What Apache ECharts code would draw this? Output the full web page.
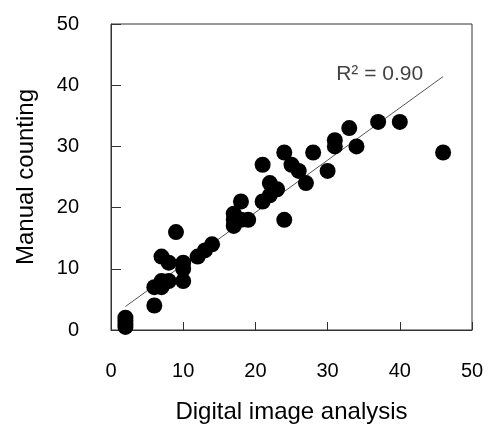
<!DOCTYPE html>
<html>
<head>
<meta charset="utf-8">
<script src="https://cdn.jsdelivr.net/npm/echarts@6/dist/echarts.min.js"></script>
<style>
  html, body { margin: 0; padding: 0; background: #fff; }
  #chart { width: 493px; height: 433px; }
</style>
</head>
<body>
<div id="chart"></div>
<script>
// digital image analysis (x) vs manual counting (y)
const digital = [2, 2, 2, 2, 6, 6, 7, 7, 8, 7, 8, 9, 10, 10, 10, 12, 13, 14,
    17, 17, 17, 18, 18, 19, 21, 21, 22, 22, 23, 24, 24, 25, 26, 27, 28, 30,
    31, 31, 33, 34, 37, 40, 46];
const manual = [2, 1.5, 1, 0.5, 4, 7, 7, 8, 8, 12, 11, 16, 11, 10, 8, 12, 13, 14,
    17, 19, 18, 21, 18, 18, 21, 27, 24, 22, 23, 29, 18, 27, 26, 24, 29, 26,
    31, 30, 33, 30, 34, 34, 29];
const axisTicks = [0, 10, 20, 30, 40, 50];

// fitted trend line
const trendSlope = 0.854;
const trendIntercept = 2.13;
const rSquared = '0.90';

const points = digital.map((x, i) => [x, manual[i]]);
const xMin = Math.min(...digital), xMax = Math.max(...digital);
const trend = [xMin, xMax].map(x => [x, trendSlope * x + trendIntercept]);

const font = '"Liberation Sans", Arial, sans-serif';
const axisColor = '#333';

const chart = echarts.init(document.getElementById('chart'));
chart.setOption({
    animation: false,
    grid: { left: 111, right: 21, top: 24, bottom: 103, show: true, borderColor: axisColor, borderWidth: 1 },
    xAxis: {
        type: 'value',
        min: axisTicks[0], max: axisTicks[axisTicks.length - 1], interval: 10,
        name: 'Digital image analysis',
        nameLocation: 'middle',
        nameGap: 70,
        nameTextStyle: { fontFamily: font, fontSize: 24, color: '#000' },
        axisLine: { show: true, lineStyle: { color: axisColor, width: 1 } },
        axisTick: { show: true, inside: true, length: 8, lineStyle: { color: axisColor } },
        axisLabel: { margin: 31, fontFamily: font, fontSize: 20, color: '#000' },
        splitLine: { show: false }
    },
    yAxis: {
        type: 'value',
        min: axisTicks[0], max: axisTicks[axisTicks.length - 1], interval: 10,
        name: 'Manual counting',
        nameLocation: 'middle',
        nameGap: 73,
        nameTextStyle: { fontFamily: font, fontSize: 24, color: '#000' },
        axisLine: { show: true, lineStyle: { color: axisColor, width: 1 } },
        axisTick: { show: true, inside: true, length: 10, lineStyle: { color: axisColor } },
        axisLabel: { margin: 32, fontFamily: font, fontSize: 20, color: '#000' },
        splitLine: { show: false }
    },
    series: [
        {
            type: 'line',
            data: trend,
            symbol: 'none',
            lineStyle: { color: '#555', width: 1 },
            z: 1
        },
        {
            type: 'scatter',
            data: points,
            symbolSize: 16,
            itemStyle: { color: '#000', opacity: 1 },
            z: 2
        },
        {
            // R² label anchored at the end of the trend line
            type: 'scatter',
            data: [trend[1]],
            symbolSize: 0,
            silent: true,
            z: 3,
            label: {
                show: true,
                position: 'left',
                distance: 20,
                offset: [0, -2],
                formatter: 'R² = ' + rSquared,
                fontFamily: font,
                fontSize: 21,
                color: '#111'
            }
        }
    ]
});
</script>
</body>
</html>
